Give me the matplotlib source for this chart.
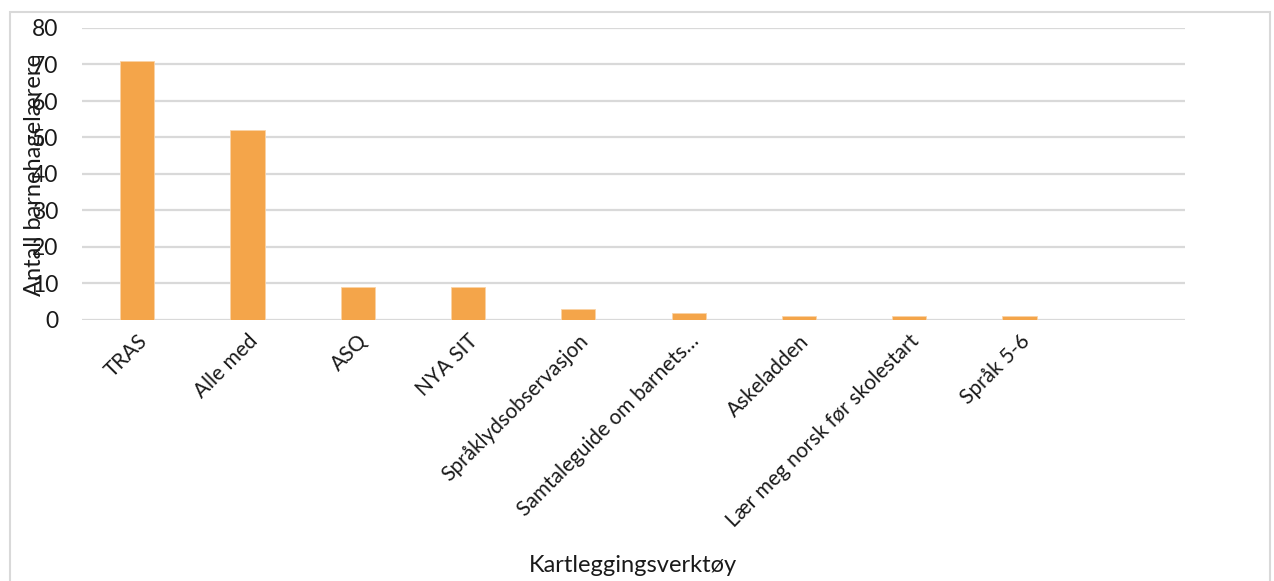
import matplotlib
matplotlib.use("Agg")
import matplotlib.pyplot as plt
from matplotlib.patches import Rectangle

categories = ["TRAS", "Alle med", "ASQ", "NYA SIT", "Språklydsobservasjon",
              "Samtaleguide om barnets…", "Askeladden", "Lær meg norsk før skolestart",
              "Språk 5-6", ""]
values = [71, 52, 9, 9, 3, 2, 1, 1, 1, 0]
yticks = [0, 10, 20, 30, 40, 50, 60, 70, 80]

plt.rcParams['font.family'] = ['Lato', 'DejaVu Sans']

W, H = 1274, 581
fig = plt.figure(figsize=(W / 100, H / 100), dpi=100)
ax = fig.add_axes([82 / W, 1 - 320 / H, (1185 - 82) / W, (320 - 28) / H])

x = list(range(len(categories)))
ax.bar(x, values, width=0.31, color="#F4A54A", edgecolor="#FAD3A6", linewidth=0.6, zorder=3)
ax.set_xlim(-0.5, len(categories) - 0.5)
ax.set_ylim(0, 80)
ax.set_yticks(yticks)
ax.set_yticklabels([str(t) for t in yticks], fontsize=16.5, color="#1a1a1a")
ax.yaxis.grid(True, color="#d9d9d9", linewidth=1.6, zorder=0)
ax.set_axisbelow(True)
for s in ax.spines.values():
    s.set_visible(False)
ax.tick_params(axis="both", length=0)
ax.tick_params(axis="y", pad=17)
ax.set_xticks(x)
ax.set_xticklabels(categories, rotation=45, ha="right", rotation_mode="anchor",
                   fontsize=15, color="#1a1a1a")
ax.tick_params(axis="x", pad=8)

fig.text(35 / W, 1 - 175 / H, "Antall barnehagelærere", rotation=90, ha="center", va="center",
         fontsize=17, color="#1a1a1a")
fig.text(633 / W, 1 - 566 / H, "Kartleggingsverktøy", ha="center", va="center",
         fontsize=17, color="#1a1a1a")

fig.patches.append(Rectangle((10 / W, -0.05), (1270 - 10) / W, 1 - 12 / H + 0.05,
                             transform=fig.transFigure, fill=False, edgecolor="#d9d9d9",
                             linewidth=1.5))

fig.savefig("out.png", dpi=100)
